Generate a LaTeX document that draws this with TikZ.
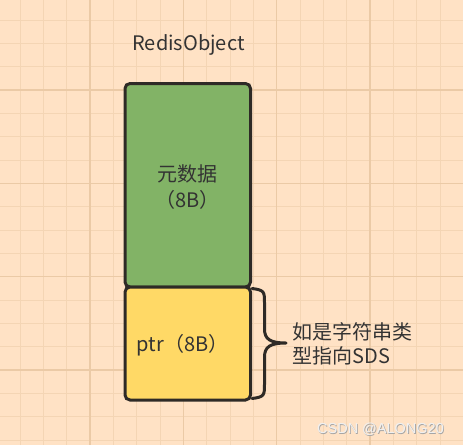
\documentclass[tikz,border=0pt]{standalone}
\usepackage{fontspec}
\setmainfont{Noto Sans CJK SC}
\newfontfamily\wmfont{Liberation Sans}
\definecolor{bgc}{HTML}{FFE2C5}
\definecolor{gridminor}{HTML}{F4D5B4}
\definecolor{gridmajor}{HTML}{EBCAA6}
\definecolor{greenfill}{HTML}{82B366}
\definecolor{yellowfill}{HTML}{FFD966}
\definecolor{strokec}{HTML}{2E2A26}
\definecolor{textc}{HTML}{333333}
\tikzset{
  memblock/.style={draw=strokec, line width=3pt, rounded corners=5pt, inner sep=0pt},
  bigtext/.style={text=textc, inner sep=0pt, font={\fontsize{20}{26}\selectfont}},
  bracepath/.style={draw=strokec, line width=3pt, line cap=round, line join=round},
}
\begin{document}
\begin{tikzpicture}[x=1pt,y=-1pt]
\useasboundingbox (0,0) rectangle (463,445);
\fill[bgc] (0,0) rectangle (463,445);
\foreach \k in {0,...,19} {
  \pgfmathsetmacro\p{20+23.3333*\k}
  \draw[gridminor, line width=1pt] (\p,0) -- (\p,445);
  \draw[gridminor, line width=1pt] (0,\p) -- (463,\p);
}
\foreach \k in {3,7,11,15,19} {
  \pgfmathsetmacro\p{20+23.3333*\k}
  \draw[gridmajor, line width=1.3pt] (\p,0) -- (\p,445);
  \draw[gridmajor, line width=1.3pt] (0,\p) -- (463,\p);
}
\node[bigtext] (title) at (188.5,45) {RedisObject};
\node[memblock, fill=greenfill, minimum width=125.5pt, minimum height=203.5pt] (meta) at (187.75,185.25) {};
\node[memblock, fill=yellowfill, minimum width=125.5pt, minimum height=113pt] (ptr) at (187.75,343.5) {};
\node[bigtext, align=center] (metatext) at (187.7,187) {元数据\\（8B）};
\node[bigtext] (ptrtext) at (182.7,345) {ptr（8B）};
\coordinate (braceTop) at ([yshift=-3pt]ptr.north east);
\coordinate (braceTip) at (286,343);
\coordinate (braceBot) at ([yshift=3pt]ptr.south east);
\path[bracepath] (braceTop) .. controls (264.5,290) and (264.5,292) .. (264.5,303)
   -- (264.5,329) .. controls (264.5,339) and (270,343) .. (braceTip)
   .. controls (270,343) and (264.5,347) .. (264.5,357)
   -- (264.5,384) .. controls (264.5,395) and (264.5,397) .. (braceBot);
\node[bigtext, align=left, anchor=west, font={\fontsize{20}{24.5}\selectfont}] (desc) at (292.5,344) {如是字符串类\\型指向SDS};
\node[text=gray!70, inner sep=0pt, font={\wmfont\fontsize{14.5}{16}\selectfont}] (wmshadow) at (381.3,429.8) {CSDN @ALONG20};
\node[text=white!94!black, inner sep=0pt, font={\wmfont\fontsize{14.5}{16}\selectfont}] (wm) at (380.5,429) {CSDN @ALONG20};
\end{tikzpicture}
\end{document}
